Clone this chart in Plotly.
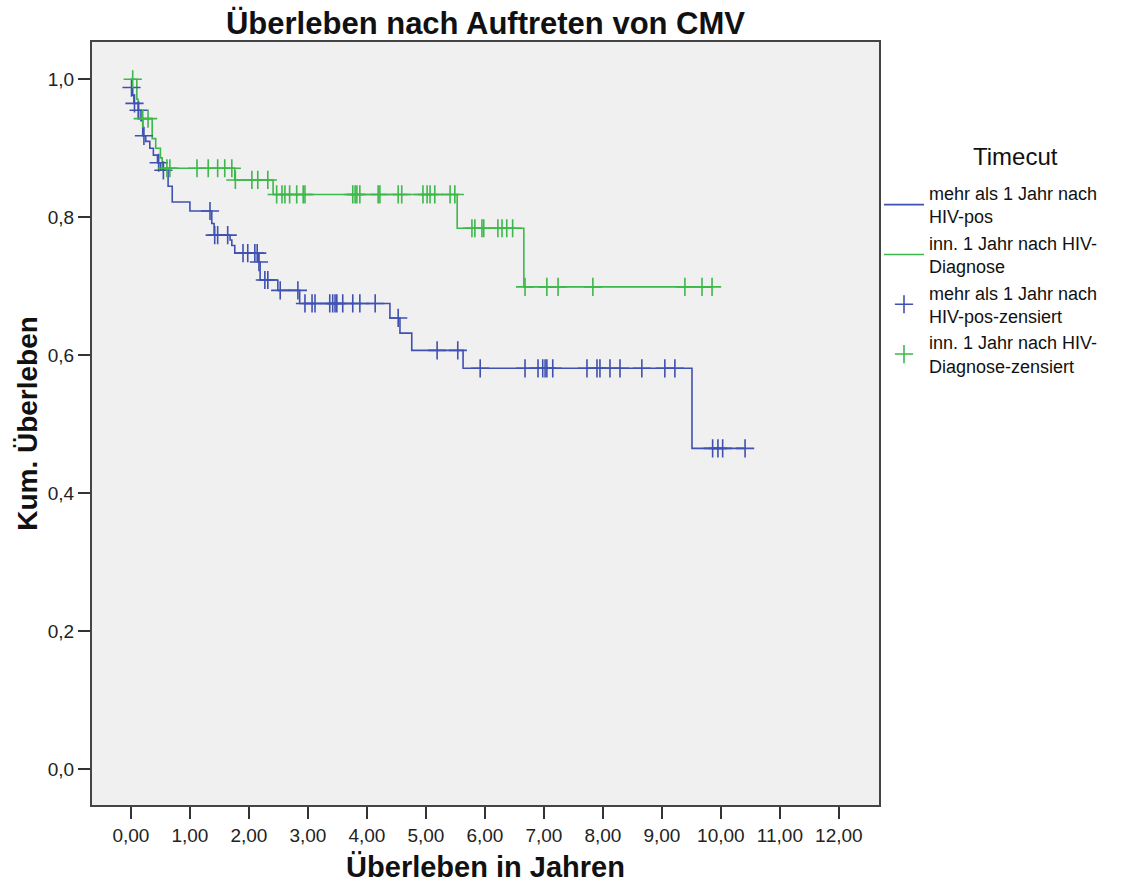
import numpy as np
import plotly.graph_objects as go

# ---------------- data ----------------
blue_name = "mehr als 1 Jahr nach<br>HIV-pos"
green_name = "inn. 1 Jahr nach HIV-<br>Diagnose"
blue_cens_name = "mehr als 1 Jahr nach<br>HIV-pos-zensiert"
green_cens_name = "inn. 1 Jahr nach HIV-<br>Diagnose-zensiert"

blue_start = 0.988
blue_event_t = [0.03, 0.05, 0.12, 0.17, 0.20, 0.25, 0.32, 0.38, 0.45, 0.50, 0.63, 0.70,
                1.00, 1.37, 1.41, 1.68, 1.71, 1.76, 2.16, 2.19, 2.49, 2.86, 4.39, 4.56,
                4.76, 5.63, 9.51]
blue_event_s = [0.977, 0.965, 0.955, 0.940, 0.918, 0.910, 0.900, 0.890, 0.879, 0.868, 0.845, 0.822,
                0.809, 0.791, 0.774, 0.767, 0.759, 0.748, 0.735, 0.709, 0.694, 0.675, 0.654, 0.632,
                0.607, 0.581, 0.465]
blue_cens_t = [0.01, 0.06, 0.13, 0.22, 0.47, 0.55, 1.34, 1.42, 1.47, 1.64, 1.90, 1.98, 2.10,
               2.14, 2.17, 2.27, 2.32, 2.53, 2.83, 2.95, 3.07, 3.12, 3.37, 3.42, 3.46, 3.49,
               3.59, 3.76, 3.88, 4.14, 4.53, 5.19, 5.54, 5.92, 6.68, 6.90, 6.98, 7.02, 7.05,
               7.15, 7.73, 7.90, 7.95, 8.12, 8.29, 8.66, 9.05, 9.22, 9.86, 9.95, 10.03, 10.41]

green_start = 1.0
green_event_t = [0.10, 0.12, 0.36, 0.42, 0.50, 0.53, 1.76, 2.41, 5.53, 6.66]
green_event_s = [0.971, 0.943, 0.914, 0.900, 0.886, 0.871, 0.854, 0.833, 0.784, 0.699]
green_cens_t = [0.03, 0.20, 0.29, 0.61, 0.66, 1.12, 1.31, 1.47, 1.59, 1.71, 1.77, 2.05, 2.15,
                2.32, 2.47, 2.56, 2.61, 2.69, 2.81, 2.92, 2.95, 3.76, 3.80, 3.83, 3.88, 4.19,
                4.22, 4.53, 4.59, 4.95, 5.02, 5.07, 5.15, 5.41, 5.49, 5.78, 5.83, 5.95, 5.98,
                6.22, 6.29, 6.37, 6.47, 6.68, 7.05, 7.24, 7.83, 9.39, 9.68, 9.85]

x_ticks = list(range(0, 13))
y_ticks = [0.0, 0.2, 0.4, 0.6, 0.8, 1.0]

BLUE = "#3F51B1"
GREEN = "#3DB84A"


def step_xy(start, ev_t, ev_s, cens_t):
    end_t = max(max(ev_t), max(cens_t))
    xs = [0.0] + list(ev_t) + [end_t]
    ys = [start] + list(ev_s) + [ev_s[-1]]
    return xs, ys


def level_at(start, ev_t, ev_s, t):
    ev_t = np.asarray(ev_t)
    levels = np.concatenate([[start], ev_s])
    idx = np.searchsorted(ev_t, np.asarray(t), side="right")
    return levels[idx]


fig = go.Figure()

bx, by = step_xy(blue_start, blue_event_t, blue_event_s, blue_cens_t)
gx, gy = step_xy(green_start, green_event_t, green_event_s, green_cens_t)

fig.add_trace(go.Scatter(x=bx, y=by, mode="lines", line=dict(color=BLUE, width=1.6, shape="hv"),
                         name=blue_name))
fig.add_trace(go.Scatter(x=gx, y=gy, mode="lines", line=dict(color=GREEN, width=1.6, shape="hv"),
                         name=green_name))
fig.add_trace(go.Scatter(x=blue_cens_t, y=level_at(blue_start, blue_event_t, blue_event_s, blue_cens_t),
                         mode="markers",
                         marker=dict(symbol="cross-thin", size=13, line=dict(color=BLUE, width=1.6)),
                         name=blue_cens_name))
fig.add_trace(go.Scatter(x=green_cens_t, y=level_at(green_start, green_event_t, green_event_s, green_cens_t),
                         mode="markers",
                         marker=dict(symbol="cross-thin", size=13, line=dict(color=GREEN, width=1.6)),
                         name=green_cens_name))

FONT = "Liberation Sans, Arial, sans-serif"

fig.update_layout(
    width=1132, height=883,
    margin=dict(l=92, r=253, t=42, b=78),
    paper_bgcolor="white",
    plot_bgcolor="#F0F0F0",
    separators=",.",
    font=dict(family=FONT, color="#111111", size=18),
    title=dict(text="<b>Überleben nach Auftreten von CMV</b>", x=0.5 * (92 + 879) / 1132, xanchor="center",
               y=1 - 23 / 883, yanchor="middle", font=dict(size=31, color="#111111")),
    showlegend=True,
    legend=dict(
        x=1.0, xanchor="left", y=0.826, yanchor="top",
        font=dict(size=18, color="#111111"),
        itemwidth=40,
        bgcolor="rgba(0,0,0,0)",
    ),
    annotations=[dict(text="Timecut", xref="paper", yref="paper",
                      x=(1015 - 92) / (879 - 92), y=1 - (156 - 42) / 763,
                      xanchor="center", yanchor="middle", showarrow=False,
                      font=dict(size=24, color="#111111"))],
)

fig.update_xaxes(
    range=[-0.66, 12.68], tickvals=x_ticks, tickformat=".2f",
    showgrid=False, zeroline=False, automargin=False,
    showline=True, linecolor="#444444", linewidth=2, mirror=True,
    ticks="outside", ticklen=12, tickwidth=2, tickcolor="#333333",
    tickfont=dict(size=19, color="#222222"),
    title=dict(text="<b>Überleben in Jahren</b>", font=dict(size=29, color="#111111"), standoff=14),
)
fig.update_yaxes(
    range=[-0.052, 1.054], tickvals=y_ticks, tickformat=".1f",
    showgrid=False, zeroline=False, automargin=False,
    showline=True, linecolor="#444444", linewidth=2, mirror=True,
    ticks="outside", ticklen=12, tickwidth=2, tickcolor="#333333",
    tickfont=dict(size=19, color="#222222"),
    title=dict(text="<b>Kum. Überleben</b>", font=dict(size=28, color="#111111"), standoff=2),
)

fig.write_html("out.html")
